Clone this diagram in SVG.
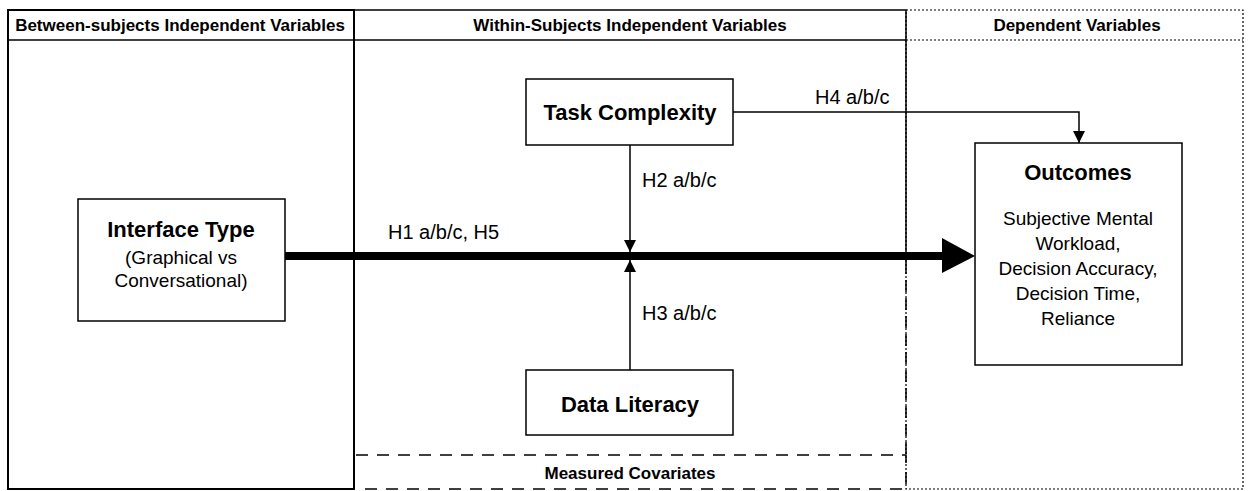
<svg xmlns="http://www.w3.org/2000/svg" width="1251" height="491" viewBox="0 0 1251 491">
<style>
.hdr{font-family:"Liberation Sans",Arial,sans-serif;font-size:17px;font-weight:bold;fill:#000;text-anchor:middle;dominant-baseline:central}
.ttl{font-family:"Liberation Sans",Arial,sans-serif;font-size:22px;font-weight:bold;fill:#000;text-anchor:middle;dominant-baseline:central}
.txt{font-family:"Liberation Sans",Arial,sans-serif;font-size:19px;fill:#000;text-anchor:middle;dominant-baseline:central}
.lbl{font-family:"Liberation Sans",Arial,sans-serif;font-size:20px;fill:#000;dominant-baseline:central}
.box{fill:#fff;stroke:#000;stroke-width:1.5}
.ln{fill:none;stroke:#000;stroke-width:1.5}
</style>
<defs>
<marker id="ah" viewBox="0 0 10 10" refX="10" refY="5" markerWidth="12" markerHeight="12" markerUnits="userSpaceOnUse" orient="auto"><path d="M0,0 L10,5 L0,10 Z" fill="#000"/></marker>
</defs>
<g id="between">
<rect x="8" y="10" width="346" height="479" fill="none" stroke="#000" stroke-width="2"/>
<line x1="8" y1="40" x2="354" y2="40" stroke="#000" stroke-width="1.5"/>
<text class="hdr" x="180" y="25">Between-subjects Independent Variables</text>
</g>
<g id="dependent">
<rect x="906" y="10" width="337" height="479" fill="none" stroke="#000" stroke-width="1.2" stroke-dasharray="2,2"/>
<line x1="906" y1="40" x2="1243" y2="40" stroke="#000" stroke-width="1.2" stroke-dasharray="2,2"/>
<text class="hdr" x="1077" y="25">Dependent Variables</text>
</g>
<g id="within">
<path d="M354,10 L906,10 L906,262" class="ln"/>
<line x1="354" y1="40" x2="906" y2="40" stroke="#000" stroke-width="1.5"/>
<line x1="906" y1="262" x2="906" y2="455" stroke="#000" stroke-width="1.5" stroke-dasharray="12,6"/>
<text class="hdr" x="630" y="25">Within-Subjects Independent Variables</text>
</g>
<g id="covariates">
<path d="M356,455 L906,455 L906,489 L356,489" fill="none" stroke="#000" stroke-width="1.5" stroke-dasharray="12,9"/>
<text class="hdr" x="630" y="473">Measured Covariates</text>
</g>
<g id="connectors">
<line x1="285" y1="256" x2="945" y2="256" stroke="#000" stroke-width="8"/>
<path d="M942,238 L975,256 L942,273 Z" fill="#000"/>
<line x1="630" y1="145" x2="630" y2="252" class="ln" marker-end="url(#ah)"/>
<line x1="630" y1="370" x2="630" y2="260" class="ln" marker-end="url(#ah)"/>
<path d="M733,112 L1079,112 L1079,143" class="ln" marker-end="url(#ah)"/>
<text class="lbl" x="388" y="232">H1 a/b/c, H5</text>
<text class="lbl" x="642" y="180">H2 a/b/c</text>
<text class="lbl" x="642" y="313">H3 a/b/c</text>
<text class="lbl" x="815" y="97">H4 a/b/c</text>
</g>
<g id="interface">
<rect class="box" x="78" y="199" width="207" height="122"/>
<text class="ttl" x="181" y="229">Interface Type</text>
<text class="txt" x="181" y="257">(Graphical vs</text>
<text class="txt" x="181" y="280">Conversational)</text>
</g>
<g id="task">
<rect class="box" x="526" y="79" width="207" height="66"/>
<text class="ttl" x="630" y="112">Task Complexity</text>
</g>
<g id="literacy">
<rect class="box" x="526" y="370" width="207" height="65"/>
<text class="ttl" x="630" y="404">Data Literacy</text>
</g>
<g id="outcomes">
<rect class="box" x="975" y="143" width="207" height="222"/>
<text class="ttl" x="1078" y="172">Outcomes</text>
<text class="txt" x="1078" y="218">Subjective Mental</text>
<text class="txt" x="1078" y="243">Workload,</text>
<text class="txt" x="1078" y="268">Decision Accuracy,</text>
<text class="txt" x="1078" y="293">Decision Time,</text>
<text class="txt" x="1078" y="318">Reliance</text>
</g>
</svg>
